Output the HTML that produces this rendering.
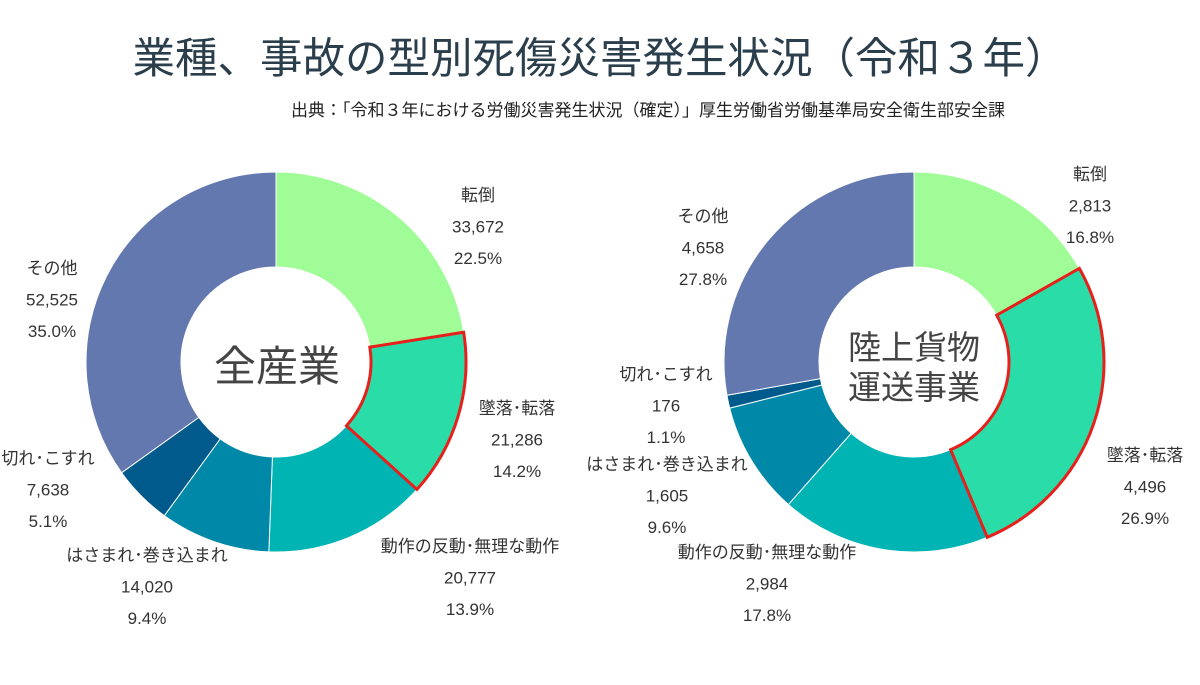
<!DOCTYPE html>
<html><head><meta charset="utf-8"><style>
html,body{margin:0;padding:0;background:#fff;}
body{width:1200px;height:680px;overflow:hidden;font-family:"Liberation Sans","Noto Sans CJK JP",sans-serif;}
</style></head><body>
<svg id="s" width="1200" height="680" xmlns="http://www.w3.org/2000/svg" font-family="Liberation Sans, Noto Sans CJK JP, sans-serif">
<text x="600" y="73" text-anchor="middle" font-size="42.5" fill="#2b3e4c">業種、事故の型別死傷災害発生状況（令和３年）</text>
<text x="648" y="116" text-anchor="middle" font-size="17" fill="#222">出典：「令和３年における労働災害発生状況（確定）」厚生労働省労働基準局安全衛生部安全課</text>
<g id="g"></g>
<text x="277" y="381" text-anchor="middle" font-size="42" fill="#444">全産業</text>
<text x="914" y="359" text-anchor="middle" font-size="33" fill="#444">陸上貨物</text>
<text x="914" y="399" text-anchor="middle" font-size="33" fill="#444">運送事業</text>
</svg>
<script>
var cols=["#a0fc96","#2adca8","#00b4b4","#0088a8","#005a8c","#6478b0"];
function arc(cx,cy,R,r,a0,a1){
 function p(rad,a){var t=(a-90)*Math.PI/180;return [cx+rad*Math.cos(t),cy+rad*Math.sin(t)];}
 var l=(a1-a0)>180?1:0,A=p(R,a0),B=p(R,a1),C=p(r,a1),D=p(r,a0);
 return "M"+A+" A"+R+","+R+" 0 "+l+" 1 "+B+" L"+C+" A"+r+","+r+" 0 "+l+" 0 "+D+" Z";
}
function donut(cx,cy,pcts){
 var g=document.getElementById("g"),a=0,h="",red="";
 pcts.forEach(function(p,i){var b=a+p*3.6;if(i==5)b=360;
  h+='<path d="'+arc(cx,cy,190,95,a,b)+'" fill="'+cols[i]+'" stroke="#fff" stroke-width="1"/>';
  if(i==1)red='<path d="'+arc(cx,cy,190,95,a,b)+'" fill="none" stroke="#e8201c" stroke-width="3"/>';
  a=b;});
 g.innerHTML+=h+red;
}
donut(276,362,[22.5,14.2,13.9,9.4,5.1,35.0]);
donut(914,362,[16.8,26.9,17.8,9.6,1.1,27.8]);
var labels=[
[478,195,"転倒","33,672","22.5%"],[517,408,"墜落･転落","21,286","14.2%"],
[470,546,"動作の反動･無理な動作","20,777","13.9%"],[147,555,"はさまれ･巻き込まれ","14,020","9.4%"],
[48,458,"切れ･こすれ","7,638","5.1%"],[52,268,"その他","52,525","35.0%"],
[1090,174,"転倒","2,813","16.8%"],[703,216,"その他","4,658","27.8%"],
[666,374,"切れ･こすれ","176","1.1%"],[667,464,"はさまれ･巻き込まれ","1,605","9.6%"],
[767,552,"動作の反動･無理な動作","2,984","17.8%"],[1145,455,"墜落･転落","4,496","26.9%"]];
var t="";
labels.forEach(function(L){for(var k=0;k<3;k++)t+='<text x="'+L[0]+'" y="'+(L[1]+6+k*31.5)+'" text-anchor="middle" font-size="17" fill="#333">'+L[2+k]+'</text>';});
document.getElementById("g").innerHTML+=t;
</script>
</body></html>
